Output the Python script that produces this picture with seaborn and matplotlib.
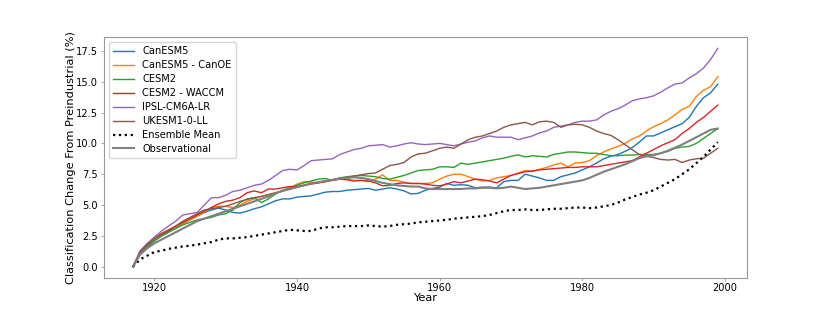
import numpy as np
import pandas as pd
import seaborn as sns
import matplotlib
matplotlib.use("Agg")
import matplotlib.pyplot as plt

years = list(range(1917, 2000))

# values (% change from preindustrial)
canesm5 = [0, 1.0, 1.6, 2.1, 2.5, 2.9, 3.2, 3.5, 3.8, 4.1,
           4.4, 4.6, 4.75, 4.6, 4.4, 4.35, 4.5, 4.7, 4.85, 5.1,
           5.35, 5.5, 5.5, 5.65, 5.7, 5.75, 5.9, 6.05, 6.1, 6.1,
           6.2, 6.25, 6.3, 6.35, 6.2, 6.3, 6.4, 6.3, 6.15, 5.9,
           5.95, 6.2, 6.35, 6.45, 6.75, 6.6, 6.65, 6.6, 6.4, 6.45,
           6.45, 6.4, 6.9, 7.0, 7.0, 7.5, 7.35, 7.2, 7.0, 7.0,
           7.3, 7.45, 7.6, 7.85, 8.1, 8.4, 8.75, 8.95, 9.1, 9.35,
           9.65, 10.1, 10.6, 10.6, 10.85, 11.1, 11.35, 11.6, 12.1, 13.0,
           13.7, 14.1, 14.8]
canoe = [0, 1.1, 1.7, 2.2, 2.5, 2.8, 3.2, 3.5, 3.8, 4.1,
         4.4, 4.8, 4.9, 4.9, 4.8, 5.0, 5.3, 5.5, 5.7, 5.85,
         6.0, 6.15, 6.4, 6.7, 6.9, 6.85, 6.8, 6.9, 7.05, 7.2,
         7.1, 7.0, 7.0, 6.9, 7.1, 7.45, 7.0, 7.0, 6.85, 6.75,
         6.75, 6.75, 6.8, 7.1, 7.35, 7.5, 7.5, 7.3, 7.1, 6.95,
         7.0, 7.2, 7.3, 7.4, 7.6, 7.8, 7.75, 7.9, 8.05, 8.25,
         8.4, 8.1, 8.4, 8.45, 8.6, 9.0, 9.3, 9.55, 9.75, 10.0,
         10.35, 10.6, 11.0, 11.35, 11.6, 11.9, 12.3, 12.75, 13.0, 13.8,
         14.3, 14.6, 15.4]
cesm2 = [0, 1.1, 1.7, 2.1, 2.5, 2.8, 3.1, 3.4, 3.6, 3.8,
         3.9, 4.0, 4.2, 4.3, 4.6, 5.2, 5.5, 5.6, 5.2, 5.5,
         5.9, 6.2, 6.4, 6.6, 6.8, 6.95, 7.1, 7.15, 7.0, 7.2,
         7.3, 7.35, 7.4, 7.35, 7.3, 7.15, 7.1, 7.25, 7.4, 7.6,
         7.8, 7.85, 7.9, 8.1, 8.1, 8.05, 8.4, 8.3, 8.4, 8.5,
         8.6, 8.7, 8.8, 8.95, 9.07, 8.9, 9.0, 8.95, 8.9, 9.1,
         9.2, 9.3, 9.3, 9.25, 9.2, 9.2, 9.1, 9.0, 9.0, 9.05,
         9.05, 9.1, 9.1, 9.1, 9.2, 9.35, 9.6, 9.7, 9.75, 10.0,
         10.4, 10.8, 11.2]
waccm = [0, 1.2, 1.8, 2.3, 2.7, 3.0, 3.3, 3.6, 3.9, 4.2,
         4.5, 4.8, 5.1, 5.3, 5.4, 5.6, 6.0, 6.15, 6.0, 6.3,
         6.3, 6.4, 6.5, 6.5, 6.6, 6.7, 6.8, 6.9, 7.0, 7.1,
         7.05, 6.95, 7.0, 6.95, 6.8, 6.56, 6.6, 6.75, 6.8, 6.75,
         6.75, 6.7, 6.6, 6.56, 6.7, 6.9, 6.8, 6.95, 7.1, 7.05,
         6.95, 6.8, 7.1, 7.4, 7.55, 7.7, 7.75, 7.85, 7.9, 7.95,
         8.0, 8.05, 8.05, 8.1, 8.1, 8.1, 8.2, 8.3, 8.4, 8.5,
         8.6, 8.9, 9.2, 9.5, 9.8, 10.05, 10.3, 10.8, 11.2, 11.7,
         12.1, 12.6, 13.1]
ipsl = [0, 1.3, 1.9, 2.4, 2.9, 3.3, 3.7, 4.2, 4.3, 4.4,
        5.0, 5.6, 5.6, 5.8, 6.1, 6.2, 6.4, 6.6, 6.7, 7.0,
        7.4, 7.8, 7.9, 7.85, 8.2, 8.6, 8.65, 8.7, 8.75, 9.1,
        9.3, 9.5, 9.6, 9.8, 9.85, 9.9, 9.7, 9.8, 9.95, 10.05,
        9.95, 9.9, 9.95, 10.0, 9.9, 9.8, 9.95, 10.1, 10.2, 10.45,
        10.6, 10.5, 10.5, 10.5, 10.3, 10.45, 10.6, 10.85, 11.0, 11.3,
        11.4, 11.5, 11.7, 11.8, 11.8, 11.9, 12.3, 12.6, 12.8, 13.1,
        13.45, 13.6, 13.7, 13.85, 14.15, 14.5, 14.8, 14.9, 15.3, 15.65,
        16.1, 16.8, 17.7]
ukesm = [0, 1.2, 1.8, 2.3, 2.6, 2.9, 3.3, 3.7, 4.0, 4.3,
         4.6, 4.7, 4.8, 4.9, 5.1, 5.3, 5.45, 5.6, 5.7, 5.85,
         6.0, 6.15, 6.3, 6.45, 6.6, 6.75, 6.85, 6.95, 7.05, 7.15,
         7.25, 7.35, 7.45, 7.55, 7.6, 7.9, 8.2, 8.3, 8.45, 8.9,
         9.15, 9.2, 9.4, 9.6, 9.7, 9.6, 9.95, 10.3, 10.5, 10.6,
         10.8, 11.0, 11.3, 11.5, 11.6, 11.7, 11.5, 11.75, 11.8, 11.7,
         11.3, 11.5, 11.55, 11.5, 11.3, 11.0, 10.8, 10.65, 10.3, 9.9,
         9.5, 9.1, 8.95, 8.85, 8.7, 8.65, 8.7, 8.45, 8.65, 8.75,
         8.8, 9.2, 9.6]
ens_mean = [0, 0.6, 0.9, 1.2, 1.3, 1.45, 1.55, 1.65, 1.7, 1.8,
            1.9, 2.0, 2.2, 2.3, 2.3, 2.35, 2.4, 2.5, 2.6, 2.7,
            2.8, 2.9, 3.0, 2.95, 2.9, 2.9, 3.1, 3.2, 3.2, 3.25,
            3.3, 3.3, 3.3, 3.35, 3.3, 3.25, 3.3, 3.4, 3.45, 3.5,
            3.6, 3.65, 3.7, 3.75, 3.8, 3.9, 3.95, 4.0, 4.05, 4.1,
            4.2, 4.35, 4.5, 4.6, 4.6, 4.65, 4.6, 4.6, 4.65, 4.7,
            4.7, 4.75, 4.8, 4.8, 4.75, 4.8, 4.9, 5.0, 5.2, 5.45,
            5.65, 5.85, 6.0, 6.2, 6.5, 6.8, 7.1, 7.5, 7.9, 8.4,
            8.9, 9.5, 10.1]
observed = [0, 1.0, 1.5, 1.9, 2.2, 2.5, 2.8, 3.1, 3.4, 3.7,
            3.9, 4.1, 4.3, 4.5, 4.7, 4.9, 5.1, 5.3, 5.5, 5.7,
            5.95, 6.15, 6.3, 6.45, 6.6, 6.75, 6.85, 6.95, 7.05, 7.15,
            7.2, 7.25, 7.2, 7.1, 6.95, 6.8, 6.7, 6.6, 6.55, 6.5,
            6.5, 6.35, 6.3, 6.3, 6.3, 6.3, 6.3, 6.35, 6.35, 6.4,
            6.4, 6.35, 6.4, 6.5, 6.4, 6.3, 6.35, 6.4, 6.5, 6.6,
            6.7, 6.8, 6.9, 7.0, 7.2, 7.45, 7.7, 7.9, 8.1, 8.3,
            8.55, 8.8, 8.95, 9.05, 9.2, 9.4, 9.65, 9.9, 10.2, 10.5,
            10.8, 11.1, 11.2]

models = ["CanESM5", "CanESM5 - CanOE", "CESM2", "CESM2 - WACCM", "IPSL-CM6A-LR", "UKESM1-0-LL"]
model_vals = [canesm5, canoe, cesm2, waccm, ipsl, ukesm]
colors = sns.color_palette("tab10")

fig, ax = plt.subplots(figsize=(8.3, 3.12), dpi=100)

for name, vals, c in zip(models, model_vals, colors):
    sns.lineplot(x=years, y=vals, label=name, color=c, linewidth=1.0, ax=ax)
sns.lineplot(x=years, y=ens_mean, label="Ensemble Mean", color="black",
             linestyle=":", linewidth=1.6, ax=ax)
sns.lineplot(x=years, y=observed, label="Observational", color="tab:gray",
             linewidth=1.5, ax=ax)

ax.set_xlabel("Year", fontsize=8.2, labelpad=0)
ax.set_ylabel("Classification Change From Preindustrial (%)", fontsize=8.2, labelpad=0)
ax.set_xticks([1920, 1940, 1960, 1980, 2000])
ax.set_yticks(np.arange(0, 17.6, 2.5))
ax.tick_params(labelsize=7.1, length=2, width=0.5, color="#888888", pad=2)
for s in ax.spines.values():
    s.set_color("#999999")
    s.set_linewidth(0.8)
ax.legend(loc="upper left", fontsize=7.1, handlelength=2.2, labelspacing=0.4,
          framealpha=0.8, borderpad=0.4)

fig.savefig("out.png", dpi=100)
